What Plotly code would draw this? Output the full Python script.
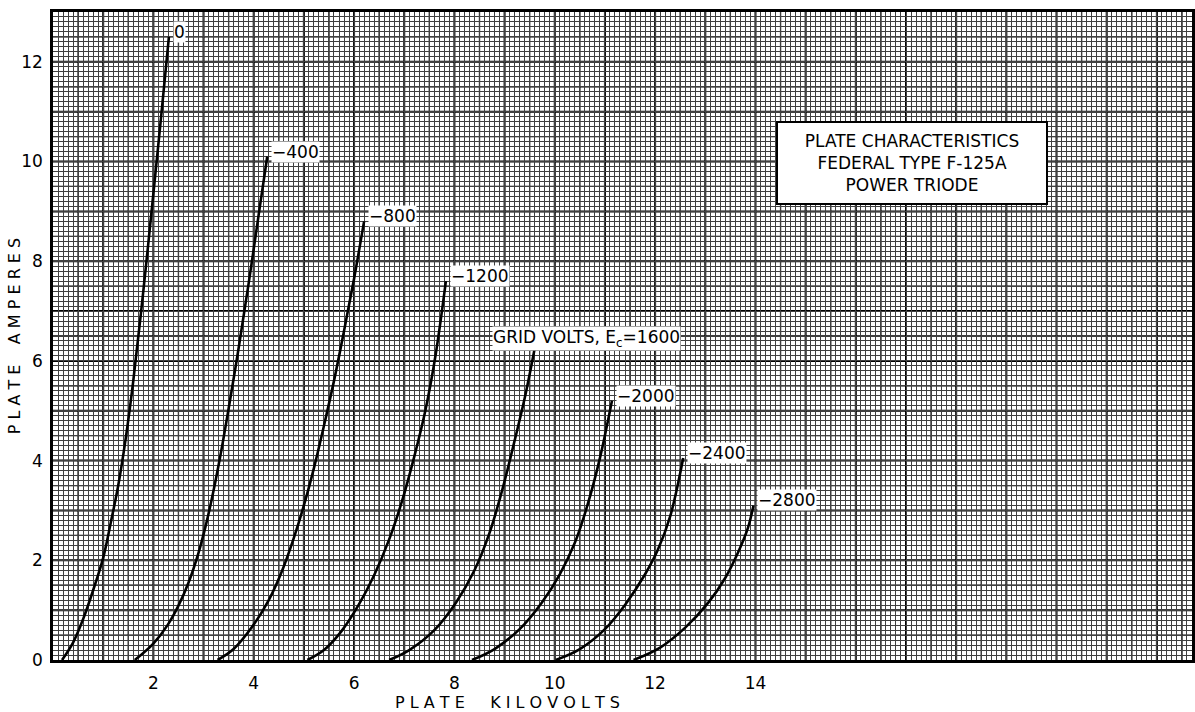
import numpy as np
import plotly.graph_objects as go

# ---- data ----
GRID_VOLTS = ["0", "−400", "−800", "−1200", "1600", "−2000", "−2400", "−2800"]

KV_0 = [0.18, 0.40, 0.60, 0.80, 1.00, 1.15, 1.30, 1.45, 1.60, 1.80, 2.00, 2.15, 2.31]
A_0 = [0, 0.35, 0.82, 1.40, 2.05, 2.75, 3.50, 4.45, 5.60, 7.40, 9.35, 10.85, 12.5]

KV_400 = [1.63, 2.00, 2.29, 2.50, 2.70, 2.90, 3.05, 3.20, 3.35, 3.50, 3.70, 3.90, 4.10, 4.27]
A_400 = [0, 0.33, 0.71, 1.09, 1.55, 2.15, 2.72, 3.40, 4.18, 5.04, 6.26, 7.56, 8.94, 10.1]

KV_800 = [3.28, 3.60, 3.98, 4.30, 4.57, 4.80, 5.00, 5.20, 5.40, 5.60, 5.80, 6.00, 6.20]
A_800 = [0, 0.22, 0.68, 1.20, 1.80, 2.45, 3.10, 3.85, 4.70, 5.60, 6.60, 7.65, 8.80]

KV_1200 = [5.07, 5.40, 5.75, 6.10, 6.40, 6.70, 6.96, 7.20, 7.42, 7.63, 7.83]
A_1200 = [0, 0.20, 0.58, 1.12, 1.70, 2.42, 3.20, 4.08, 5.00, 6.15, 7.60]

KV_1600 = [6.70, 7.10, 7.60, 8.03, 8.40, 8.70, 8.95, 9.20, 9.40, 9.60]
A_1600 = [0, 0.20, 0.60, 1.15, 1.80, 2.55, 3.40, 4.40, 5.25, 6.25]

KV_2000 = [8.35, 8.80, 9.30, 9.74, 10.10, 10.40, 10.65, 10.90, 11.14]
A_2000 = [0, 0.22, 0.62, 1.15, 1.72, 2.35, 3.10, 4.05, 5.20]

KV_2400 = [10.02, 10.50, 11.00, 11.41, 11.80, 12.05, 12.30, 12.56]
A_2400 = [0, 0.22, 0.62, 1.12, 1.72, 2.20, 2.88, 4.05]

KV_2800 = [11.57, 12.10, 12.60, 13.06, 13.40, 13.65, 13.85, 13.96]
A_2800 = [0, 0.25, 0.65, 1.15, 1.65, 2.15, 2.65, 3.10]

CURVES = [(KV_0, A_0), (KV_400, A_400), (KV_800, A_800), (KV_1200, A_1200),
          (KV_1600, A_1600), (KV_2000, A_2000), (KV_2400, A_2400), (KV_2800, A_2800)]

X_TICKS = [2, 4, 6, 8, 10, 12, 14]
Y_TICKS = [0, 2, 4, 6, 8, 10, 12]
X_MAX = 22.7
Y_MAX = 13.0

FONT = "DejaVu Sans"

fig = go.Figure()
for (kv, a), name in zip(CURVES, GRID_VOLTS):
    fig.add_trace(go.Scatter(x=kv, y=a, mode="lines", name=name,
                             line=dict(color="black", width=2.6, shape="spline", smoothing=1.0),
                             hoverinfo="skip", showlegend=False))

# grid: medium (0.5) and heavy (1.0) lines as shapes between grid and traces
shapes = []
for v in np.arange(0.5, X_MAX, 0.5):
    heavy = abs(v - round(v)) < 1e-9
    shapes.append(dict(type="line", xref="x", yref="paper", x0=v, x1=v, y0=0, y1=1,
                       layer="between",
                       line=dict(color="black", width=2.0 if heavy else 1.3)))
for v in np.arange(0.5, Y_MAX, 0.5):
    heavy = abs(v - round(v)) < 1e-9
    shapes.append(dict(type="line", xref="paper", yref="y", x0=0, x1=1, y0=v, y1=v,
                       layer="between",
                       line=dict(color="black", width=2.0 if heavy else 1.3)))

annotations = []
for (kv, a), name in zip(CURVES, GRID_VOLTS):
    if name == "1600":
        annotations.append(dict(x=kv[-1], y=a[-1], xref="x", yref="y",
                                text="GRID VOLTS, E<sub>c</sub>=1600", showarrow=False,
                                xanchor="center", yanchor="middle", xshift=52, yshift=10,
                                bgcolor="white", borderpad=0,
                                font=dict(family=FONT, size=17, color="black")))
    else:
        annotations.append(dict(x=kv[-1], y=a[-1], xref="x", yref="y", text=name,
                                showarrow=False, xanchor="left", yanchor="middle",
                                xshift=4, yshift=5, bgcolor="white", borderpad=0,
                                font=dict(family=FONT, size=17, color="black")))

annotations.append(dict(x=0.754, y=0.767, xref="paper", yref="paper",
                        text="PLATE CHARACTERISTICS<br>FEDERAL TYPE F-125A<br>POWER TRIODE",
                        showarrow=False, xanchor="center", yanchor="middle",
                        width=268, height=80, bgcolor="white", bordercolor="black",
                        borderwidth=2, borderpad=0, align="center",
                        font=dict(family=FONT, size=17, color="black")))

annotations.append(dict(x=0.399, y=-0.065, xref="paper", yref="paper",
                        text="P L A T E     K I L O V O L T S", showarrow=False,
                        xanchor="center", yanchor="middle",
                        font=dict(family=FONT, size=16, color="black")))
annotations.append(dict(x=-0.034, y=0.5, xref="paper", yref="paper",
                        text="P L A T E    A M P E R E S", showarrow=False, textangle=-90,
                        xanchor="center", yanchor="middle",
                        font=dict(family=FONT, size=16, color="black")))

minor_grid = dict(tickmode="linear", tick0=0, dtick=0.1, showgrid=True,
                  gridcolor="#404040", gridwidth=1)

fig.update_layout(
    width=1195, height=712,
    margin=dict(l=53, r=0, t=12, b=52),
    paper_bgcolor="white", plot_bgcolor="white",
    shapes=shapes, annotations=annotations,
    xaxis=dict(range=[0, X_MAX], tickmode="array", tickvals=X_TICKS,
               ticktext=[str(t) for t in X_TICKS], showgrid=False, zeroline=False,
               showline=True, linecolor="black", linewidth=2.5, mirror=True,
               ticks="", ticklabelstandoff=6,
               tickfont=dict(family=FONT, size=17, color="black"),
               minor=minor_grid),
    yaxis=dict(range=[0, Y_MAX], tickmode="array", tickvals=Y_TICKS,
               ticktext=[str(t) for t in Y_TICKS], showgrid=False, zeroline=False,
               showline=True, linecolor="black", linewidth=2.5, mirror=True,
               ticks="", ticklabelstandoff=4,
               tickfont=dict(family=FONT, size=17, color="black"),
               minor=minor_grid),
)

fig.write_html("out.html", config={"displayModeBar": False},
               post_script="document.body.style.margin='0px';")
